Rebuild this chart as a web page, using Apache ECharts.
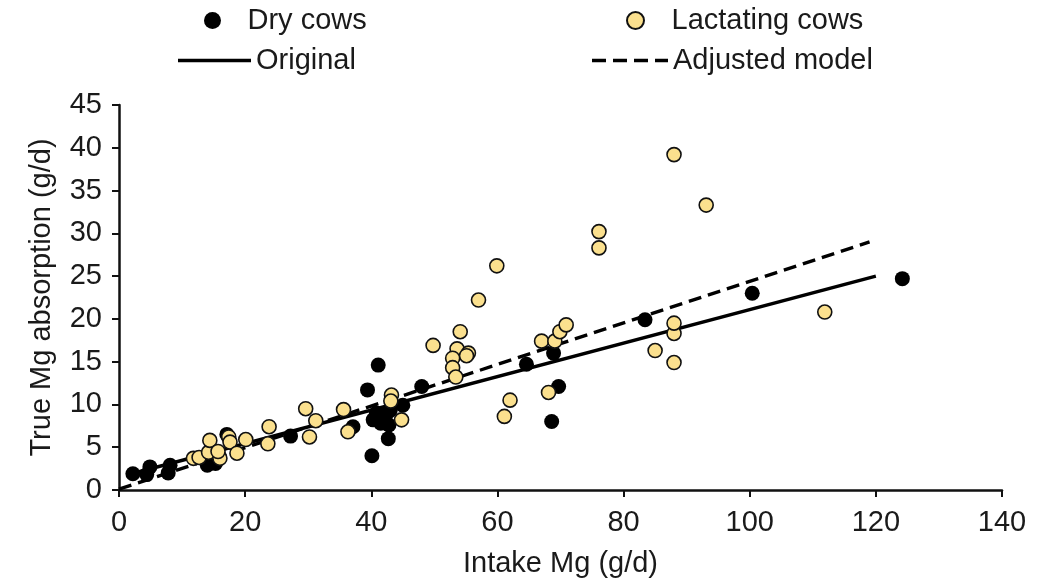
<!DOCTYPE html>
<html>
<head>
<meta charset="utf-8">
<script src="https://cdn.jsdelivr.net/npm/echarts@6/dist/echarts.min.js"></script>
<style>
html,body{margin:0;padding:0;background:#fff;}
#chart{width:1051px;height:583px;}
</style>
</head>
<body>
<div id="chart"></div>
<script>
// Tick labels
const xTicks = [0, 20, 40, 60, 80, 100, 120, 140];
const yTicks = [0, 5, 10, 15, 20, 25, 30, 35, 40, 45];

// Series names
const seriesNames = ['Dry cows', 'Lactating cows', 'Original', 'Adjusted model'];

// Dry cows: [intake Mg, true Mg absorption]
const dryCows = [
  [2.2,1.9],[4.9,2.7],[4.4,1.8],[8.1,2.9],[7.8,2.0],[14.0,2.9],[15.3,3.1],
  [17.1,6.5],[27.2,6.3],[37.1,7.4],[39.4,11.7],[41.1,14.6],[40.1,4.0],
  [40.3,8.2],[40.8,9.0],[41.5,7.8],[42.3,8.8],[42.8,7.6],[42.7,6.0],[43.0,9.3],
  [45.0,9.9],[48.0,12.1],[64.6,14.7],[68.9,16.0],[69.7,12.1],[68.6,8.0],
  [83.4,19.9],[100.4,23.0],[124.2,24.7]
];

// Lactating cows
const lactatingCows = [
  [11.8,3.7],[12.7,3.8],[14.2,4.4],[14.4,5.8],[16.0,3.7],[15.7,4.5],[17.4,6.2],
  [17.6,5.6],[18.7,4.3],[20.1,5.9],[23.8,7.4],[23.6,5.4],[29.6,9.5],[31.2,8.1],
  [30.2,6.2],[35.6,9.4],[36.3,6.8],[43.2,11.1],[43.1,10.4],[44.8,8.2],[49.8,16.9],
  [54.1,18.5],[53.6,16.5],[55.4,16.0],[55.1,15.7],[52.9,15.4],[52.9,14.3],[53.4,13.2],
  [57.0,22.2],[59.9,26.2],[61.1,8.6],[62.0,10.5],[67.0,17.4],[69.1,17.4],[69.9,18.5],
  [70.9,19.3],[68.1,11.4],[76.1,30.2],[76.1,28.3],[85.0,16.3],[88.0,14.9],[88.0,18.3],
  [88.0,19.5],[88.0,39.2],[93.1,33.3],[111.9,20.8]
];

// Model lines
const originalLine = [[2,1.9],[120,25.0]];
const adjustedLine = [[0,0.1],[119,29.0]];

const FONT = 'Liberation Sans, Arial, sans-serif';
const TXT = '#1a1a1a';
const FS = 29;

const chart = echarts.init(document.getElementById('chart'), null, {renderer:'canvas'});

function legendAt(item, left, top, w, h) {
  return {
    data: [item], left: left, top: top, itemWidth: w, itemHeight: h, itemGap: 0,
    padding: 0, selectedMode: false,
    textStyle: {fontFamily: FONT, fontSize: FS, color: TXT}
  };
}

const dashIcon = 'path://M0,0h14v3.5h-14zM21,0h14v3.5h-14zM42,0h14v3.5h-14zM63,0h13v3.5h-13z';

chart.setOption({
  animation: false,
  backgroundColor: '#fff',
  legend: [
    legendAt({name: seriesNames[0]}, 204, 6, 60, 17),
    legendAt({name: seriesNames[1]}, 626, 6, 62, 17),
    legendAt({name: seriesNames[2], icon: 'rect'}, 178, 46, 73, 3.5),
    legendAt({name: seriesNames[3], icon: dashIcon}, 592, 46, 76, 3.5)
  ],
  grid: {left: 119, right: 49, top: 105, bottom: 93, containLabel: false},
  xAxis: {
    type: 'value', min: xTicks[0], max: xTicks[xTicks.length-1], interval: xTicks[1]-xTicks[0],
    name: 'Intake Mg (g/d)', nameLocation: 'middle', nameGap: 59,
    nameTextStyle: {fontFamily: FONT, fontSize: FS, color: TXT},
    axisLine: {show: true, onZero: false, lineStyle: {color: '#111', width: 2.5}},
    axisTick: {show: true, inside: false, length: 7, lineStyle: {color: '#111', width: 2}},
    axisLabel: {fontFamily: FONT, fontSize: FS, color: TXT, margin: 18},
    splitLine: {show: false}
  },
  yAxis: {
    type: 'value', min: yTicks[0], max: yTicks[yTicks.length-1], interval: yTicks[1]-yTicks[0],
    name: 'True Mg absorption (g/d)', nameLocation: 'middle', nameGap: 63,
    nameTextStyle: {fontFamily: FONT, fontSize: FS, color: TXT},
    axisLine: {show: true, onZero: false, lineStyle: {color: '#111', width: 2.5}},
    axisTick: {show: true, inside: false, length: 7, lineStyle: {color: '#111', width: 2}},
    axisLabel: {fontFamily: FONT, fontSize: FS, color: TXT, margin: 17},
    splitLine: {show: false}
  },
  series: [
    {
      name: seriesNames[0], type: 'scatter', data: dryCows, symbol: 'circle', symbolSize: 15,
      itemStyle: {color: '#000', borderColor: '#000', borderWidth: 0, opacity: 1}, z: 4
    },
    {
      name: seriesNames[1], type: 'scatter', data: lactatingCows, symbol: 'circle', symbolSize: 14,
      itemStyle: {color: '#FBE08E', borderColor: '#111', borderWidth: 1.6, opacity: 1}, z: 5
    },
    {
      name: seriesNames[2], type: 'line', data: originalLine, symbol: 'none', showSymbol: false,
      lineStyle: {color: '#000', width: 3.4, type: 'solid'}, itemStyle: {color: '#000'}, z: 2
    },
    {
      name: seriesNames[3], type: 'line', data: adjustedLine, symbol: 'none', showSymbol: false,
      lineStyle: {color: '#000', width: 3.4, type: [13, 7]}, itemStyle: {color: '#000'}, z: 2
    }
  ]
});
</script>
</body>
</html>
